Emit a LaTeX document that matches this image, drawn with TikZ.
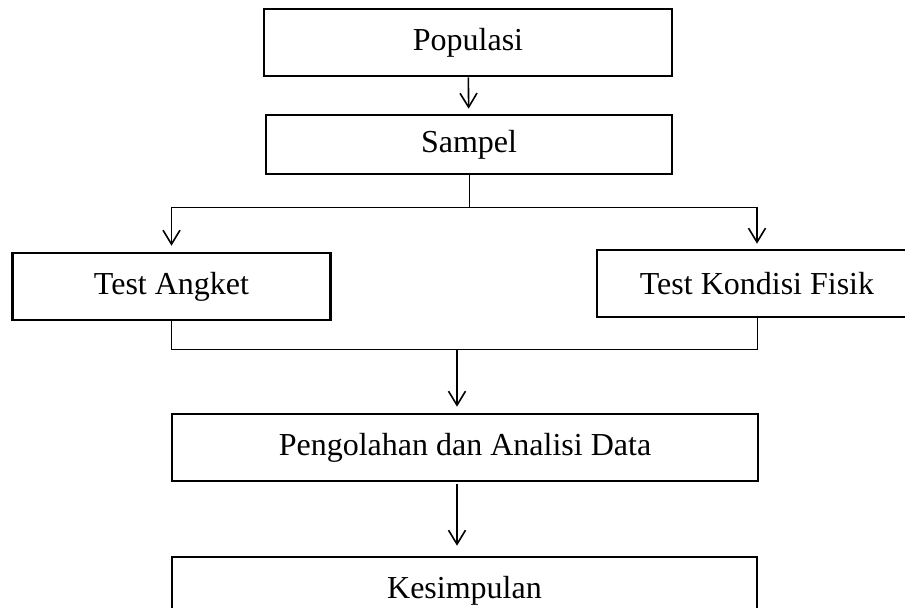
\documentclass[tikz,border=0pt]{standalone}
\usepackage{fontspec}
\setmainfont{Liberation Serif}
\usetikzlibrary{arrows.meta}

\begin{document}
\begin{tikzpicture}[x=0.5pt, y=-0.5pt, >={Straight Barb[length=7pt,width=8.5pt]},
  kotak/.style={draw, line width=1.3pt, minimum height=33.5pt, inner sep=0pt, font=\fontsize{16}{19}\selectfont},
  panah/.style={->, line width=0.8pt}]
\useasboundingbox (0,0) rectangle (905,607);
\clip (0,0) rectangle (905,607);

\node [kotak, minimum width=204pt] (pop) at (468,42.5) {Populasi};
\node [kotak, minimum width=203pt, minimum height=29.5pt] (smp) at (469,144.5) {Sampel};
\node [kotak, minimum width=159pt] (ang) at (171.5,286.5) {Test Angket};
\node [kotak, minimum width=160pt] (fis) at (757,283.5) {Test Kondisi Fisik};
\node [kotak, minimum width=293pt] (olah) at (465,447.5) {Pengolahan dan Analisi Data};
\node [kotak, minimum width=292.5pt] (simp) at (464.5,590.5) {Kesimpulan};

\coordinate (bagi) at (469,207);
\coordinate (gabung) at (457,349);

\draw [panah, shorten >=2.5pt] (pop) -- (smp);

% cabang ke dua test
\draw [thin] (smp.south) -- (bagi);
\draw [thin] (ang.north |- bagi) -- (fis.north |- bagi);
\draw [panah, shorten >=3pt] (ang.north |- bagi) -- (ang.north);
\draw [panah, shorten >=2.5pt] (fis.north |- bagi) -- (fis.north);

\draw [thin] (ang.south) -- (ang.south |- gabung) -- (fis.south |- gabung) -- (fis.south);
\draw [panah, shorten >=3pt] (gabung) -- (olah.north -| gabung);
\draw [panah, shorten <=1pt, shorten >=5pt] (olah.south -| gabung) -- (simp.north -| gabung);
\end{tikzpicture}
\end{document}
